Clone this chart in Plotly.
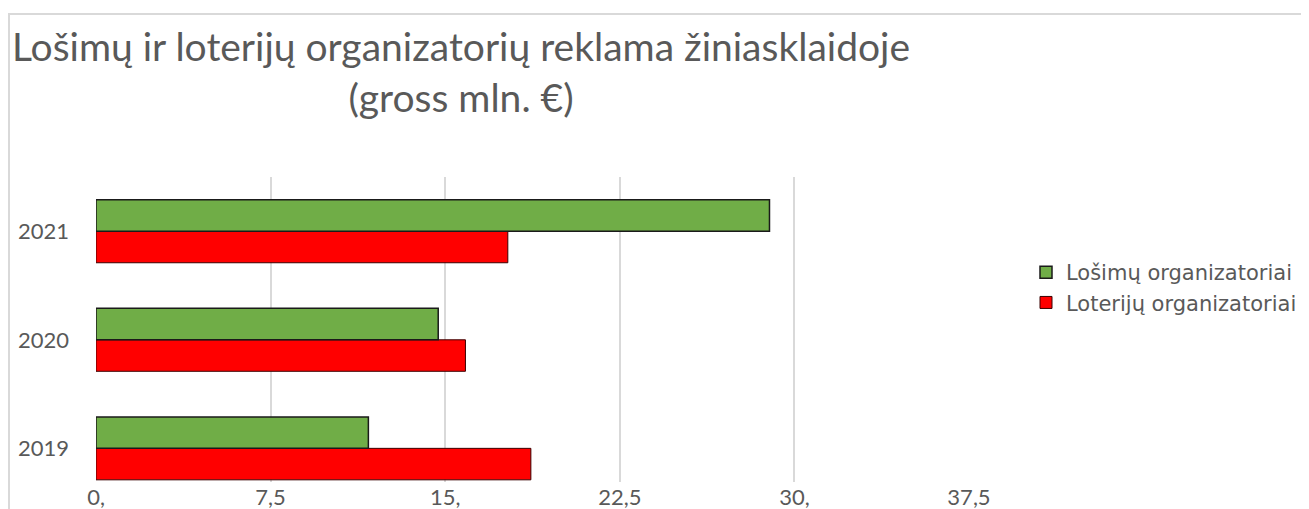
import plotly.graph_objects as go

years = ["2019", "2020", "2021"]
losimu = [11.70, 14.70, 28.93]
loteriju = [18.68, 15.87, 17.69]
tick_vals = [0, 7.5, 15, 22.5, 30, 37.5]
tick_text = ["0,", "7,5", "15,", "22,5", "30,", "37,5"]

title_text = "Lošimų ir loterijų organizatorių reklama žiniasklaidoje<br>(gross mln. €)"
gray = "#595959"

fig = go.Figure()
fig.add_trace(go.Bar(
    y=years, x=loteriju, orientation="h", name="Loterijų organizatoriai",
    marker=dict(color="#FF0000", line=dict(color="#3a0000", width=1)),
))
fig.add_trace(go.Bar(
    y=years, x=losimu, orientation="h", name="Lošimų organizatoriai",
    marker=dict(color="#70AD47", line=dict(color="#1a1a1a", width=1.5)),
))

# page body has an 8px margin, so figure coords = screen coords - 8
W, H = 1301, 501
L, R, T, B = 88, W - 961, 169, 27

fig.update_layout(
    width=W, height=H,
    margin=dict(l=L, r=R, t=T, b=B, autoexpand=False),
    paper_bgcolor="white", plot_bgcolor="white",
    barmode="group", bargap=0.42, bargroupgap=0,
    title=dict(text=title_text, x=453 / W, xref="container", xanchor="center",
               y=1 - 53 / H, yref="container", yanchor="top",
               font=dict(family="Lato", size=39, color=gray)),
    legend=dict(x=1018 / W, xref="container", xanchor="left",
                y=1 - 244 / H, yref="container", yanchor="top",
                traceorder="reversed", font=dict(family="DejaVu Sans", size=21, color=gray),
                bgcolor="rgba(0,0,0,0)"),
    xaxis=dict(range=[0, 37.5], tickvals=tick_vals, ticktext=tick_text, showgrid=True,
               gridcolor="#D9D9D9", gridwidth=2, zeroline=False, showline=False,
               tickfont=dict(family="Lato", size=22, color=gray), automargin=False),
    yaxis=dict(type="category", range=[-0.31, 2.5], showgrid=False, zeroline=False, showline=False,
               tickfont=dict(family="Lato", size=22, color=gray), ticklabelstandoff=26, automargin=False),
    font=dict(family="Lato", color=gray),
    shapes=[dict(type="rect", xref="paper", yref="paper",
                 x0=-(L - 1) / (W - L - R), x1=(W + 20 - L) / (W - L - R),
                 y0=-(B + 20) / (H - T - B), y1=1 + (T - 6) / (H - T - B),
                 line=dict(color="#D9D9D9", width=2), fillcolor="rgba(0,0,0,0)", layer="below")],
)

fig.write_html("out.html")
